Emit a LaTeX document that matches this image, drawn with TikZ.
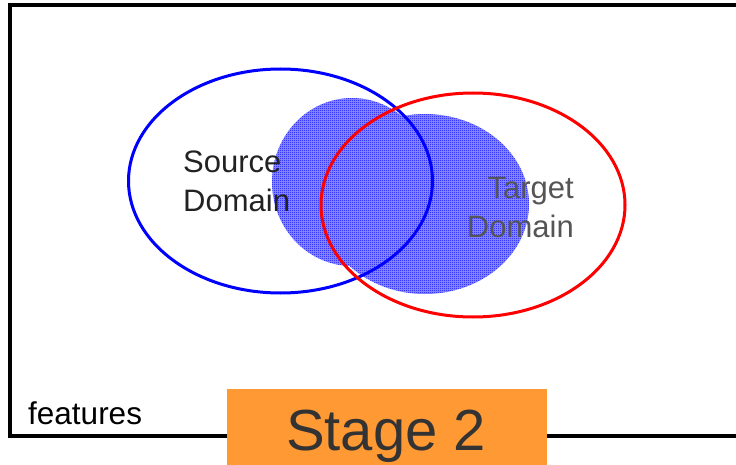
\documentclass[tikz,border=0pt]{standalone}
\usepackage{fontspec}
\setmainfont{Liberation Sans}
\usetikzlibrary{patterns}
\definecolor{stageorange}{HTML}{FF9933}
\definecolor{darktext}{HTML}{333333}
\definecolor{srctext}{HTML}{222222}
\definecolor{graytext}{HTML}{555555}
\definecolor{srcblue}{HTML}{0000FF}
\definecolor{tgtred}{HTML}{FF0000}
\definecolor{blobbase}{HTML}{9595FF}
\pgfdeclarepatternformonly{checker}{\pgfqpoint{0pt}{0pt}}{\pgfqpoint{2pt}{2pt}}{\pgfqpoint{2pt}{2pt}}{%
  \pgfpathrectangle{\pgfqpoint{0pt}{0pt}}{\pgfqpoint{1pt}{1pt}}%
  \pgfpathrectangle{\pgfqpoint{1pt}{1pt}}{\pgfqpoint{1pt}{1pt}}%
  \pgfusepath{fill}}
\tikzset{
  blobfill/.style={fill=blobbase, nonzero rule},
  blob/.style={pattern=checker, pattern color=srcblue, nonzero rule},
  domline/.style={line width=3pt},
  domlabel/.style={font=\fontsize{31}{39}\selectfont, inner sep=0pt},
  framebox/.style={draw=black, line width=3.5pt},
}
\begin{document}
\begin{tikzpicture}[x=1pt,y=-1pt]
\useasboundingbox (0,0) rectangle (736,465);
\clip (0,0) rectangle (736,465);
% frame
\draw[framebox] (10,5) rectangle (780,436);
% shaded blobs (union)
\fill[blobfill] (352,182) ellipse [x radius=80, y radius=84] (425,204) ellipse [x radius=104, y radius=90];
\fill[blob] (352,182) ellipse [x radius=80, y radius=84] (425,204) ellipse [x radius=104, y radius=90];
% labels
\node[domlabel, text=srctext, align=left, anchor=north west] (srclabel) at (183,151) {Source\\Domain};
\node[domlabel, text=graytext, align=right, anchor=north east] (tgtlabel) at (574,177) {Target\\Domain};
% domain ellipses
\draw[domline, srcblue] (280.5,181) ellipse [x radius=152, y radius=112];
\draw[domline, tgtred] (473,205) ellipse [x radius=152, y radius=112];
% features
\node[font=\fontsize{31.5}{37}\selectfont, inner sep=0pt, anchor=base west] (feat) at (28,424) {features};
% stage box
\node[fill=stageorange, minimum width=320, minimum height=80, inner sep=0pt, anchor=north west] (stagebox) at (227,389) {};
\node[font=\fontsize{58}{66}\selectfont, text=darktext, inner sep=0pt, anchor=base] (stagetext) at (386,450) {Stage 2};
\end{tikzpicture}
\end{document}
